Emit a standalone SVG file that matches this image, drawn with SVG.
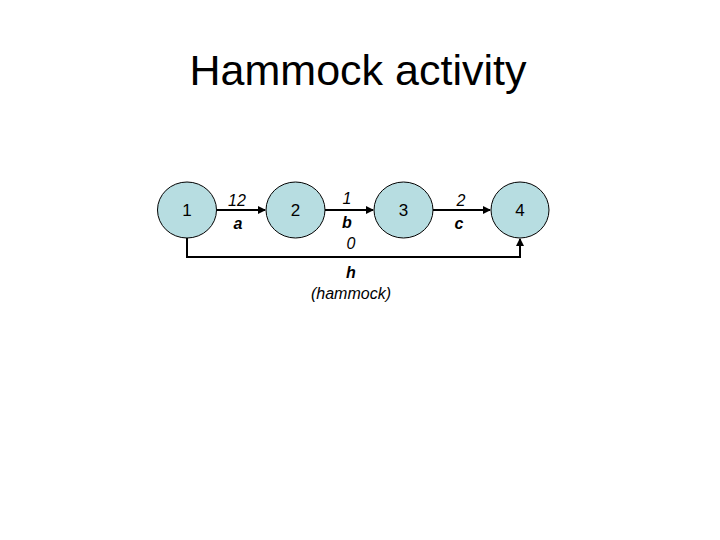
<svg xmlns="http://www.w3.org/2000/svg" width="720" height="540" viewBox="0 0 720 540">
<defs>
<marker id="ah" markerWidth="8" markerHeight="8" refX="7" refY="4" orient="auto" markerUnits="userSpaceOnUse">
<path d="M0,0 L8,4 L0,8 Z" fill="#000"/>
</marker>
<style>
.node{fill:#b7dde1;stroke:#000;stroke-width:1}
.nt{font-family:"Liberation Sans",Arial,sans-serif;font-size:17px;text-anchor:middle}
.lbl{font-family:"Liberation Sans",Arial,sans-serif;font-size:16px;font-style:italic;text-anchor:middle}
.lb{font-weight:bold}
.edge{fill:none;stroke:#000;stroke-width:2}
</style>
</defs>
<rect width="720" height="540" fill="#fff"/>
<text x="358" y="85" font-family="'Liberation Sans',Arial,sans-serif" font-size="43" text-anchor="middle">Hammock activity</text>
<g id="connectors">
<line class="edge" x1="217" y1="210" x2="265" y2="210" marker-end="url(#ah)"/>
<line class="edge" x1="325" y1="210" x2="373" y2="210" marker-end="url(#ah)"/>
<line class="edge" x1="433" y1="210" x2="490" y2="210" marker-end="url(#ah)"/>
<polyline class="edge" points="187,238 187,257 520,257 520,239" marker-end="url(#ah)"/>
<text class="lbl" x="237" y="206">12</text>
<text class="lbl lb" x="238" y="229">a</text>
<text class="lbl" x="347" y="204">1</text>
<text class="lbl lb" x="347" y="228">b</text>
<text class="lbl" x="351" y="249">0</text>
<text class="lbl" x="461" y="206">2</text>
<text class="lbl lb" x="459" y="229">c</text>
<text class="lbl lb" x="351" y="278">h</text>
<text class="lbl" x="351" y="299">(hammock)</text>
</g>
<g id="n1"><ellipse class="node" cx="187" cy="210" rx="29.5" ry="28"/><text class="nt" x="187" y="216">1</text></g>
<g id="n2"><ellipse class="node" cx="295.5" cy="210" rx="29.5" ry="28"/><text class="nt" x="295.5" y="216">2</text></g>
<g id="n3"><ellipse class="node" cx="403.5" cy="210" rx="29.5" ry="28"/><text class="nt" x="403.5" y="216">3</text></g>
<g id="n4"><ellipse class="node" cx="520" cy="210" rx="29" ry="28"/><text class="nt" x="520" y="216">4</text></g>
</svg>
